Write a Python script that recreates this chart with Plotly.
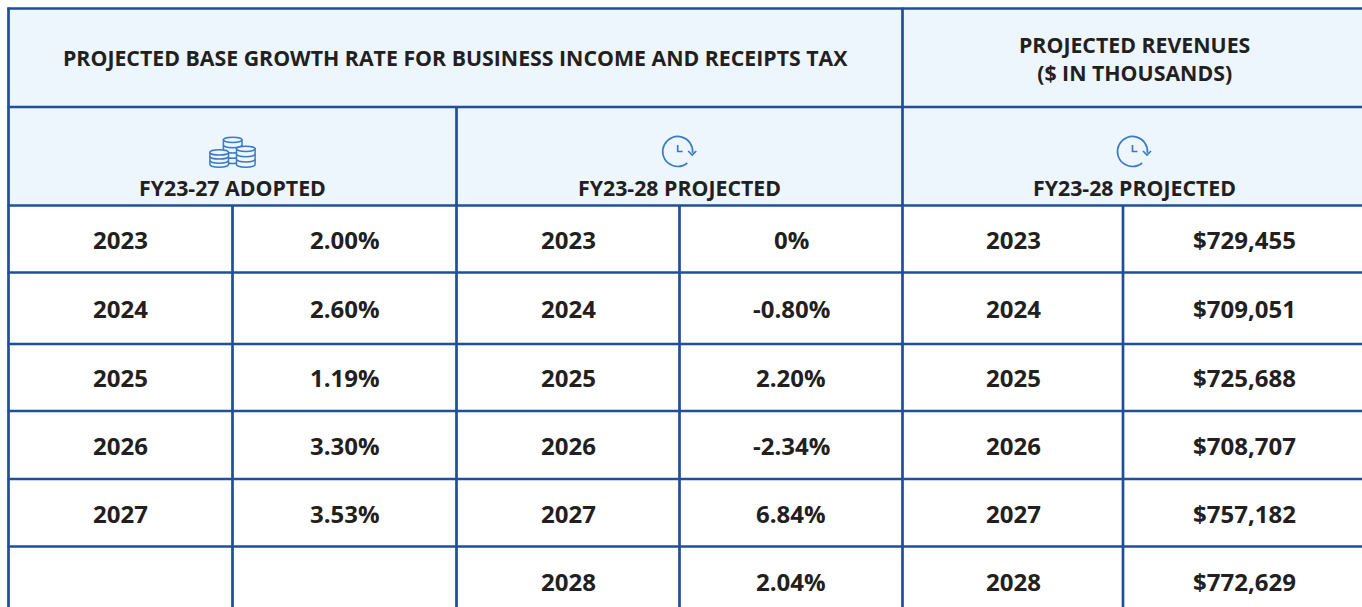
import math
import plotly.graph_objects as go

# ---- data ----
title_main = "PROJECTED BASE GROWTH RATE FOR BUSINESS INCOME AND RECEIPTS TAX"
title_rev = "PROJECTED REVENUES<br>($ IN THOUSANDS)"
sub_adopted = "FY23-27 ADOPTED"
sub_projected = "FY23-28 PROJECTED"
years_adopted = ["2023", "2024", "2025", "2026", "2027", ""]
rates_adopted = ["2.00%", "2.60%", "1.19%", "3.30%", "3.53%", ""]
years_proj = ["2023", "2024", "2025", "2026", "2027", "2028"]
rates_proj = ["0%", "-0.80%", "2.20%", "-2.34%", "6.84%", "2.04%"]
years_rev = ["2023", "2024", "2025", "2026", "2027", "2028"]
revenues = ["$729,455", "$709,051", "$725,688", "$708,707", "$757,182", "$772,629"]

# ---- layout grid (pixels) ----
W, H = 1362, 607
V = [8.5, 232.5, 456.5, 679.5, 902.5, 1123]
HL = [8.5, 107, 205.5, 272.5, 344, 411, 479, 546.5]
ROW_Y = [239, 308.5, 377.5, 445.5, 513.5, 581]
COL_X = [120, 344.5, 568, 791, 1013, 1244]
LINE = "#1f4f98"
HEAD = "#edf5fd"
TEXT = "#231f20"
ICON = "#3a7cc4"
FONT = "Open Sans"

shapes = []
def rect(x0, y0, x1, y1, fill):
    shapes.append(dict(type="rect", x0=x0, x1=x1, y0=y0, y1=y1, fillcolor=fill, line_width=0, layer="below"))
def seg(x0, y0, x1, y1, w=2.7, c=LINE):
    shapes.append(dict(type="line", x0=x0, x1=x1, y0=y0, y1=y1, line=dict(color=c, width=w)))
def path(d, w=1.5, fill=None):
    s = dict(type="path", path=d, line=dict(color=ICON, width=w))
    if fill:
        s["fillcolor"] = fill
    shapes.append(s)

rect(V[0], HL[0], W, HL[2], HEAD)

seg(V[0], HL[0] - 1, V[0], H)
seg(V[4], HL[0] - 1, V[4], H)
seg(V[2], HL[1], V[2], H)
for x in (V[1], V[3], V[5]):
    seg(x, HL[2], x, H)
for y in HL:
    seg(V[0] - 1, y, W, y)

# icons
K = 0.5523
def ellipse(cx, cy, rx, ry):
    return (f"M {cx-rx},{cy} C {cx-rx},{cy-K*ry} {cx-K*rx},{cy-ry} {cx},{cy-ry} "
            f"C {cx+K*rx},{cy-ry} {cx+rx},{cy-K*ry} {cx+rx},{cy} "
            f"C {cx+rx},{cy+K*ry} {cx+K*rx},{cy+ry} {cx},{cy+ry} "
            f"C {cx-K*rx},{cy+ry} {cx-rx},{cy+K*ry} {cx-rx},{cy} Z")
def lower(cx, cy, rx, ry):
    return (f"M {cx-rx},{cy} C {cx-rx},{cy+K*ry} {cx-K*rx},{cy+ry} {cx},{cy+ry} "
            f"C {cx+K*rx},{cy+ry} {cx+rx},{cy+K*ry} {cx+rx},{cy}")
def stack(cx, top, bottom, n):
    rx, ry = 9.3, 2.6
    body = (f"M {cx-rx},{top} L {cx-rx},{bottom} "
            f"C {cx-rx},{bottom+K*ry} {cx-K*rx},{bottom+ry} {cx},{bottom+ry} "
            f"C {cx+K*rx},{bottom+ry} {cx+rx},{bottom+K*ry} {cx+rx},{bottom} L {cx+rx},{top} Z")
    path(body, fill=HEAD)
    step = (bottom - top) / n
    for i in range(1, n):
        path(lower(cx, top + i * step, rx, ry))
    path(ellipse(cx, top, rx, ry), fill=HEAD)

stack(232.7, 139.8, 161, 4)
stack(219.2, 152.4, 164.6, 3)
stack(245.8, 148.8, 164.6, 3)

def arc(cx, cy, r, a0, a1, n=8):
    """Circular arc as cubic curves; angles in degrees, clockwise on screen."""
    d = math.radians(a1 - a0) / n
    h = 4 / 3 * math.tan(d / 4)
    a = math.radians(a0)
    out = f"M {cx + r*math.cos(a)},{cy + r*math.sin(a)}"
    for i in range(n):
        b = a + d
        out += (f" C {cx + r*(math.cos(a) - h*math.sin(a))},{cy + r*(math.sin(a) + h*math.cos(a))}"
                f" {cx + r*(math.cos(b) + h*math.sin(b))},{cy + r*(math.sin(b) - h*math.cos(b))}"
                f" {cx + r*math.cos(b)},{cy + r*math.sin(b)}")
        a = b
    return out

def clock(cx, cy):
    path(arc(cx, cy, 15, 50, 360 + 5), w=1.7)
    path(f"M {cx+10.5},{cy-0.5} L {cx+14.5},{cy+3.5} L {cx+18.5},{cy-0.5}", w=1.7)
    path(f"M {cx},{cy-6.5} L {cx},{cy} L {cx+5},{cy}", w=1.7)

clock(677.7, 151.5)
clock(1132.5, 151.5)

# text
ann = []
def txt(x, y, s, size=21.3):
    if s:
        ann.append(dict(x=x, y=y, text=f"<b>{s}</b>", showarrow=False, xanchor="center", yanchor="middle",
                        align="center", font=dict(family=FONT, size=size, color=TEXT)))

txt(455.5, 57.5, title_main)
txt(1134.5, 58, title_rev)
txt(232.5, 187, sub_adopted)
txt(679, 187, sub_projected)
txt(1134, 187, sub_projected)
columns = [years_adopted, rates_adopted, years_proj, rates_proj, years_rev, revenues]
for cx, col in zip(COL_X, columns):
    for y, v in zip(ROW_Y, col):
        txt(cx, y, v, 24)

fig = go.Figure()
fig.update_layout(
    width=W, height=H, autosize=False, margin=dict(l=0, r=0, t=0, b=0),
    paper_bgcolor="white", plot_bgcolor="white", showlegend=False,
    xaxis=dict(range=[0, W], visible=False, fixedrange=True),
    yaxis=dict(range=[H, 0], visible=False, fixedrange=True),
    shapes=shapes, annotations=ann,
)
fig.write_html("out.html", config=dict(displayModeBar=False),
               post_script="document.body.style.margin='0';document.body.style.overflow='hidden';")
